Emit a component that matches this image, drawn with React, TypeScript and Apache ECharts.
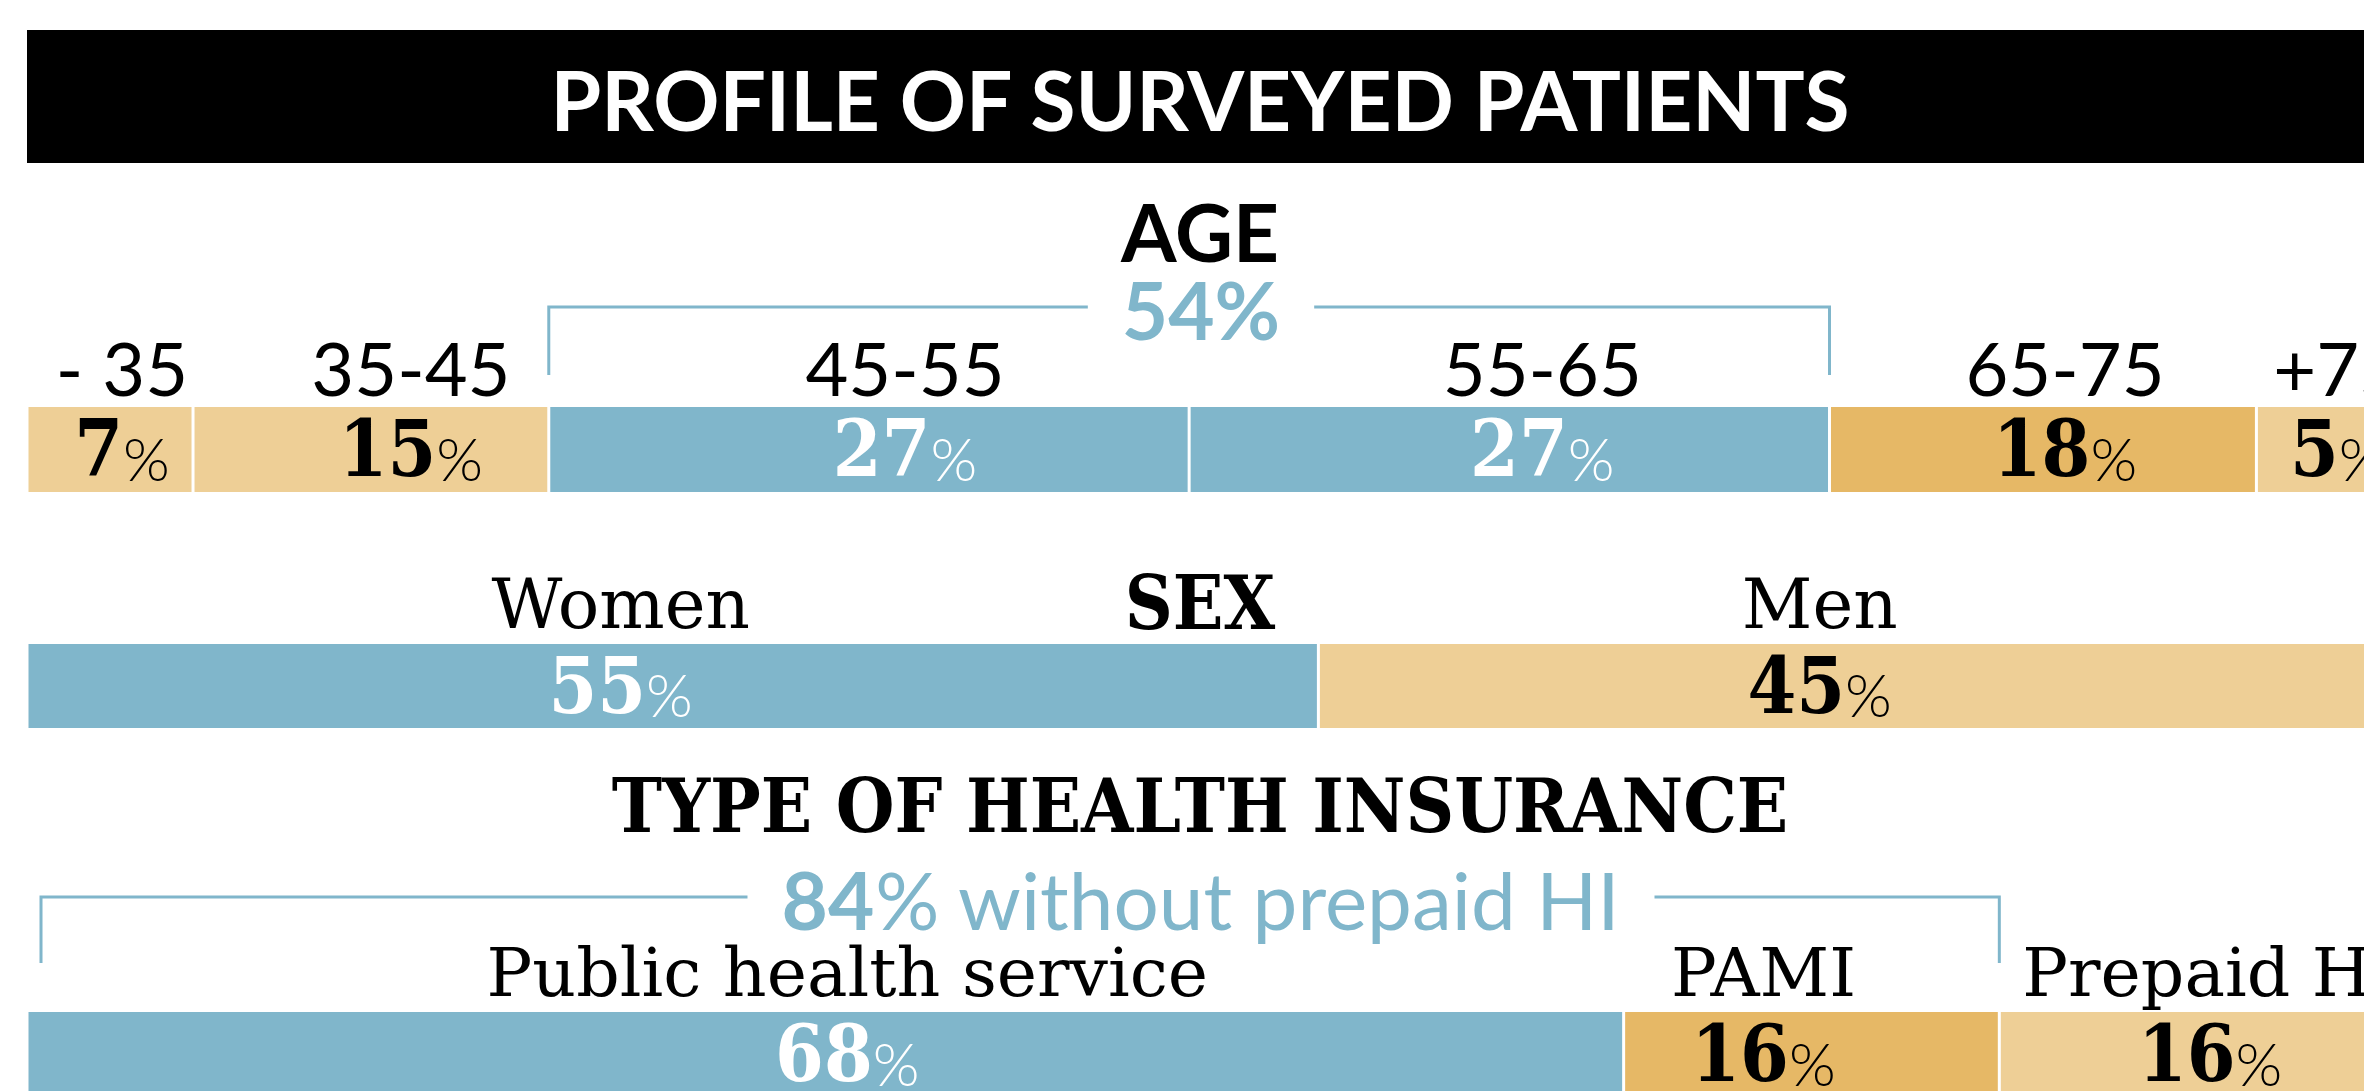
import React, { useEffect, useRef } from "react";
import * as echarts from "echarts";

// ---------- data ----------
const TITLE = "PROFILE OF SURVEYED PATIENTS";

const AGE_TITLE = "AGE";
const AGE_GROUPS = ["- 35", "35-45", "45-55", "55-65", "65-75", "+75"];
const AGE_PCT = [7, 15, 27, 27, 18, 5];
const AGE_BRACKET = [2, 3]; // 45-55 .. 55-65

const SEX_TITLE = "SEX";
const SEX_GROUPS = ["Women", "Men"];
const SEX_PCT = [55, 45];

const HI_TITLE = "TYPE OF HEALTH INSURANCE";
const HI_GROUPS = ["Public health service", "PAMI", "Prepaid HI"];
const HI_PCT = [68, 16, 16];
const HI_BRACKET = [0, 1]; // public + PAMI
const HI_BRACKET_TEXT = " without prepaid HI";

// ---------- styles ----------
const SANS = "Lato, 'Noto Sans', sans-serif";
const SLAB = "'DejaVu Serif Condensed', 'DejaVu Serif', serif";
const SERIF = "'DejaVu Serif', serif";
const BLUE = "#80b6cb";
const TAN = "#eecf96";
const ORANGE = "#e6b866";

const AGE_COLORS = [TAN, TAN, BLUE, BLUE, ORANGE, TAN];
const SEX_COLORS = [BLUE, TAN];
const HI_COLORS = [BLUE, ORANGE, TAN];
// horizontal label nudges (px) relative to the segment centre
const AGE_NUDGE = [12, 40, 36, 33, 22, 22];
const SEX_NUDGE = [-52, -27];
const HI_NUDGE = [22, -48, 23];

const GAP = 3;

const sum = (a: number[]) => a.reduce((s, v) => s + v, 0);

function cumulative(values: number[]) {
  let acc = 0;
  return values.map((v) => {
    const item = [acc, acc + v, v];
    acc += v;
    return item;
  });
}

function segRender(names: string[], colors: string[], nudges: number[], labelFont: string) {
  return (params: any, api: any) => {
    const i = params.dataIndex;
    const s = api.value(0);
    const e = api.value(1);
    const v = api.value(2);
    const pTop = api.coord([s, 1]);
    const pBot = api.coord([e, 0]);
    const x0 = pTop[0];
    const x1 = pBot[0];
    const top = pTop[1];
    const bottom = pBot[1];
    const cx = (x0 + x1) / 2 + nudges[i];
    const txt = colors[i] === BLUE ? "#ffffff" : "#000000";
    return {
      type: "group",
      children: [
        {
          type: "rect",
          shape: { x: x0 + GAP / 2, y: top, width: x1 - x0 - GAP, height: bottom - top },
          style: { fill: colors[i] },
        },
        {
          type: "text",
          x: cx,
          y: (top + bottom) / 2 - 2,
          style: {
            text: `{n|${v}}{p|%}`,
            align: "center",
            verticalAlign: "middle",
            rich: {
              n: { fontFamily: SLAB, fontWeight: "bold", fontSize: 78, fill: txt, lineHeight: 80, verticalAlign: "bottom" },
              p: { fontFamily: SANS, fontWeight: 300, fontSize: 60, fill: txt, lineHeight: 66, verticalAlign: "bottom" },
            },
          },
        },
        {
          type: "text",
          x: cx,
          y: top - 40,
          style: {
            text: names[i],
            font: labelFont,
            fill: "#000",
            align: "center",
            verticalAlign: "middle",
          },
        },
      ],
    };
  };
}

function bracketRender(total: number, rise: number, drop: number, insetL: number, rich: any, text: string) {
  return (params: any, api: any) => {
    const s = api.value(0);
    const e = api.value(1);
    const pL = api.coord([s, 1]);
    const pR = api.coord([e, 1]);
    const top = pL[1];
    const xl = pL[0] + insetL;
    const xr = pR[0];
    const yH = top - rise;
    const yV = top - drop;
    const cx = (api.coord([0, 0])[0] + api.coord([total, 0])[0]) / 2;
    return {
      type: "group",
      children: [
        {
          type: "polyline",
          shape: { points: [[xl, yV], [xl, yH], [xr, yH], [xr, yV]] },
          style: { stroke: BLUE, lineWidth: 3, fill: null },
        },
        {
          type: "text",
          x: cx,
          y: yH + 2,
          z2: 10,
          style: {
            text,
            rich,
            align: "center",
            verticalAlign: "middle",
            backgroundColor: "#ffffff",
            padding: [0, 34],
          },
        },
      ],
    };
  };
}

export default function App() {
  const ref = useRef<HTMLDivElement>(null);

  useEffect(() => {
    if (!ref.current) return;
    const chart = echarts.init(ref.current, undefined, { renderer: "svg" });

    const groups = [
      { names: AGE_GROUPS, values: AGE_PCT, colors: AGE_COLORS, nudges: AGE_NUDGE, top: 407, height: 85, font: `400 74px ${SANS}` },
      { names: SEX_GROUPS, values: SEX_PCT, colors: SEX_COLORS, nudges: SEX_NUDGE, top: 644, height: 84, font: `400 69px ${SERIF}` },
      { names: HI_GROUPS, values: HI_PCT, colors: HI_COLORS, nudges: HI_NUDGE, top: 1012, height: 85, font: `400 68px ${SERIF}` },
    ];

    const ageCum = cumulative(AGE_PCT);
    const hiCum = cumulative(HI_PCT);
    const ageHighlight = AGE_BRACKET.reduce((s, i) => s + AGE_PCT[i], 0);
    const hiHighlight = HI_BRACKET.reduce((s, i) => s + HI_PCT[i], 0);

    const blueBold = { fontFamily: SANS, fontWeight: "bold", fontSize: 80, fill: BLUE, lineHeight: 50 };
    const blueReg = { fontFamily: SANS, fontWeight: 400, fontSize: 80, fill: BLUE, lineHeight: 50 };

    const series: any[] = groups.map((g, i) => ({
      type: "custom",
      xAxisIndex: i,
      yAxisIndex: i,
      renderItem: segRender(g.names, g.colors, g.nudges, g.font),
      encode: { x: [0, 1] },
      data: cumulative(g.values),
      silent: true,
    }));

    series.push({
      type: "custom",
      xAxisIndex: 0,
      yAxisIndex: 0,
      z: 3,
      renderItem: bracketRender(sum(AGE_PCT), 100, 32, 0, { b: blueBold }, `{b|${ageHighlight}%}`),
      encode: { x: [0, 1] },
      data: [[ageCum[AGE_BRACKET[0]][0], ageCum[AGE_BRACKET[1]][1]]],
      silent: true,
    });
    series.push({
      type: "custom",
      xAxisIndex: 2,
      yAxisIndex: 2,
      z: 3,
      renderItem: bracketRender(sum(HI_PCT), 115, 49, 14, { b: blueBold, r: blueReg }, `{b|${hiHighlight}}{r|%${HI_BRACKET_TEXT}}`),
      encode: { x: [0, 1] },
      data: [[hiCum[HI_BRACKET[0]][0], hiCum[HI_BRACKET[1]][1]]],
      silent: true,
    });

    const heading = (text: string, y: number, font: string) => ({
      type: "text",
      x: 1200,
      y,
      style: { text, font, fill: "#000", align: "center", verticalAlign: "middle", textAlign: "center", textVerticalAlign: "middle" },
    });

    chart.setOption({
      animation: false,
      backgroundColor: "#ffffff",
      grid: groups.map((g) => ({ left: 27, width: 2348, top: g.top, height: g.height, containLabel: false })),
      xAxis: groups.map((g, i) => ({ type: "value", gridIndex: i, min: 0, max: sum(g.values), show: false })),
      yAxis: groups.map((g, i) => ({ type: "value", gridIndex: i, min: 0, max: 1, show: false })),
      series,
      graphic: [
        { type: "rect", shape: { x: 27, y: 30, width: 2400, height: 133 }, style: { fill: "#000" } },
        {
          type: "text",
          x: 1200,
          y: 99,
          style: { text: TITLE, font: `bold 82px ${SANS}`, fill: "#fff", align: "center", verticalAlign: "middle", textAlign: "center", textVerticalAlign: "middle" },
        },
        heading(AGE_TITLE, 231, `bold 80px ${SANS}`),
        heading(SEX_TITLE, 603, `bold 74px ${SLAB}`),
        heading(HI_TITLE, 806, `bold 75px ${SLAB}`),
      ],
    });

    return () => chart.dispose();
  }, []);

  return (
    <div style={{ position: "fixed", left: 0, top: 0, width: "100vw", height: "100vh", overflow: "hidden", background: "#fff" }}>
      <div ref={ref} style={{ width: 2400, height: 1100 }} />
    </div>
  );
}
